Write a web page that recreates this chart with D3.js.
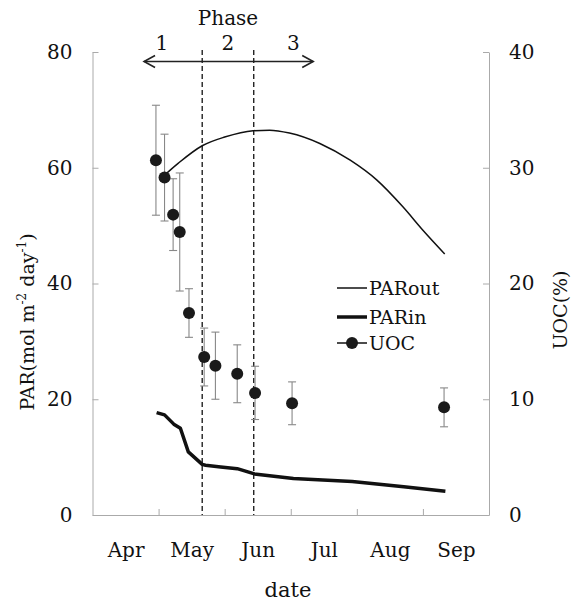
<!DOCTYPE html>
<html>
<head>
<meta charset="utf-8">
<script src="https://cdn.jsdelivr.net/npm/d3@7"></script>
<style>
  body { margin: 0; background: #fff; }
  svg text { font-family: "DejaVu Serif", serif; fill: #111; }
</style>
</head>
<body>
<div id="chart"></div>
<script>
// month bands on the x axis (0 = start of Apr band)
const months = ["Apr", "May", "Jun", "Jul", "Aug", "Sep"]
const leftTicks = [0, 20, 40, 60, 80]
const rightTicks = [0, 10, 20, 30, 40]

// PAR outside (mol m-2 day-1)
const parOutX = [1.02, 1.30, 1.66, 2.00, 2.43, 2.68, 2.98, 3.44, 3.90, 4.30, 4.70, 5.00, 5.33]
const parOutY = [58.0, 60.8, 63.8, 65.3, 66.4, 66.5, 66.0, 64.2, 61.3, 57.9, 53.2, 49.2, 45.1]

// PAR inside
const parInX = [0.97, 1.09, 1.23, 1.33, 1.45, 1.66, 1.71, 1.94, 2.19, 2.45, 3.04, 3.93, 4.71, 5.34]
const parInY = [17.7, 17.3, 15.7, 15.0, 10.9, 8.75, 8.6, 8.3, 8.0, 7.1, 6.3, 5.8, 4.9, 4.1]

// UOC (%) with error
const uocX = [0.96, 1.09, 1.22, 1.32, 1.46, 1.69, 1.86, 2.19, 2.46, 3.02, 5.32]
const uocY = [30.65, 29.15, 25.95, 24.45, 17.45, 13.65, 12.9, 12.2, 10.55, 9.65, 9.3]
const uocErr = [4.75, 3.75, 3.1, 5.1, 2.1, 2.5, 2.9, 2.5, 2.3, 1.85, 1.68]

// phases
const phaseBounds = [1.66, 2.44]
const phaseLabels = ["1", "2", "3"]
const phaseLabelX = [1.05, 2.05, 3.04]
const arrowExtent = [0.78, 3.34]

const W = 575, H = 602
const svg = d3.select("#chart").append("svg")
    .attr("width", W)
    .attr("height", H)

const x = d3.scaleLinear().domain([0, 6]).range([92.5, 489])
const y = d3.scaleLinear().domain([0, 80]).range([515, 52])
const y2 = d3.scaleLinear().domain([0, 40]).range([515, 52])

const axisColor = "#aaa"

// axes
const yAxis = d3.axisLeft(y).tickValues(leftTicks).tickSize(-6).tickSizeOuter(0).tickPadding(20)
const y2Axis = d3.axisRight(y2).tickValues(rightTicks).tickSize(-6).tickSizeOuter(0).tickPadding(20)
const xAxis = d3.axisBottom(x).tickValues([1, 2, 3, 4, 5]).tickSize(-6).tickSizeOuter(0).tickFormat("")
const xLabels = d3.axisBottom(x).tickValues(months.map((d, i) => i + 0.5))
    .tickSize(0).tickPadding(28).tickFormat((d, i) => months[i])

function styleAxis(g) {
    g.select(".domain").attr("stroke", axisColor)
    g.selectAll(".tick line").attr("stroke", axisColor)
    g.selectAll(".tick text").attr("font-size", 20).attr("fill", "#111")
        .style("font-family", "DejaVu Serif, serif")
}

svg.append("g").attr("class", "y-axis")
    .attr("transform", `translate(${x(0)},0)`)
    .call(yAxis).call(styleAxis)

svg.append("g").attr("class", "y2-axis")
    .attr("transform", `translate(${x(6)},0)`)
    .call(y2Axis).call(styleAxis)

svg.append("g").attr("class", "x-axis")
    .attr("transform", `translate(0,${y(0)})`)
    .call(xAxis).call(styleAxis)

svg.append("g").attr("class", "x-labels")
    .attr("transform", `translate(0,${y(0)})`)
    .call(xLabels).call(styleAxis)
    .call(g => g.select(".domain").remove())

// axis titles
const parLabel = svg.append("text")
    .attr("transform", `translate(34,${322}) rotate(-90)`)
    .attr("text-anchor", "middle")
    .attr("font-size", 19)
parLabel.append("tspan").text("PAR(mol m")
parLabel.append("tspan").attr("font-size", 12).attr("dy", -8).text("-2")
parLabel.append("tspan").attr("dy", 8).text(" day")
parLabel.append("tspan").attr("font-size", 12).attr("dy", -8).text("-1")
parLabel.append("tspan").attr("dy", 8).text(")")

svg.append("text")
    .attr("transform", `translate(567,${310}) rotate(-90)`)
    .attr("text-anchor", "middle")
    .attr("font-size", 19)
    .text("UOC(%)")

svg.append("text")
    .attr("x", 288).attr("y", 597)
    .attr("text-anchor", "middle")
    .attr("font-size", 21)
    .text("date")

// phase boundaries
svg.selectAll(".phase-line")
    .data(phaseBounds)
    .join("line")
    .attr("class", "phase-line")
    .attr("x1", d => x(d)).attr("x2", d => x(d))
    .attr("y1", 50).attr("y2", y(0))
    .attr("stroke", "#111")
    .attr("stroke-width", 1.3)
    .attr("stroke-dasharray", "5,3")

// phase arrow
const ay = 61.5
const a0 = x(arrowExtent[0]), a1 = x(arrowExtent[1])
svg.append("line")
    .attr("x1", a0).attr("x2", a1).attr("y1", ay).attr("y2", ay)
    .attr("stroke", "#222").attr("stroke-width", 1.6)
svg.append("path")
    .attr("d", `M${a0 + 11},${ay - 6}L${a0},${ay}L${a0 + 11},${ay + 6}`)
    .attr("fill", "none").attr("stroke", "#222").attr("stroke-width", 1.6)
svg.append("path")
    .attr("d", `M${a1 - 11},${ay - 6}L${a1},${ay}L${a1 - 11},${ay + 6}`)
    .attr("fill", "none").attr("stroke", "#222").attr("stroke-width", 1.6)

svg.append("text")
    .attr("x", 228).attr("y", 25)
    .attr("text-anchor", "middle")
    .attr("font-size", 20)
    .text("Phase")

svg.selectAll(".phase-num")
    .data(phaseLabels)
    .join("text")
    .attr("class", "phase-num")
    .attr("x", (d, i) => x(phaseLabelX[i]))
    .attr("y", 50)
    .attr("text-anchor", "middle")
    .attr("font-size", 20)
    .text(d => d)

// lines
const parOut = parOutX.map((d, i) => ({x: d, v: parOutY[i]}))
const parIn = parInX.map((d, i) => ({x: d, v: parInY[i]}))
const line = d3.line().x(d => x(d.x)).y(d => y(d.v)).curve(d3.curveMonotoneX)

svg.append("path")
    .datum(parOut)
    .attr("d", line)
    .attr("fill", "none")
    .attr("stroke", "#111")
    .attr("stroke-width", 1.5)

svg.append("path")
    .datum(parIn)
    .attr("d", d3.line().x(d => x(d.x)).y(d => y(d.v)))
    .attr("fill", "none")
    .attr("stroke", "#111")
    .attr("stroke-width", 3.5)
    .attr("stroke-linejoin", "round")

// UOC error bars + points
const uoc = uocX.map((d, i) => ({x: d, v: uocY[i], e: uocErr[i]}))
const eb = svg.append("g").attr("class", "errbars")
    .attr("stroke", "#888").attr("stroke-width", 1.1)
uoc.forEach(d => {
    const cx = x(d.x)
    eb.append("line").attr("x1", cx).attr("x2", cx)
        .attr("y1", y2(d.v + d.e)).attr("y2", y2(d.v - d.e))
    eb.append("line").attr("x1", cx - 4).attr("x2", cx + 4)
        .attr("y1", y2(d.v + d.e)).attr("y2", y2(d.v + d.e))
    eb.append("line").attr("x1", cx - 4).attr("x2", cx + 4)
        .attr("y1", y2(d.v - d.e)).attr("y2", y2(d.v - d.e))
})

svg.selectAll(".uoc")
    .data(uoc)
    .join("circle")
    .attr("class", "uoc")
    .attr("cx", d => x(d.x))
    .attr("cy", d => y2(d.v))
    .attr("r", 6)
    .attr("fill", "#1a1a1a")

// legend
const legend = svg.append("g").attr("class", "legend")
const items = [
    {name: "PARout", w: 1.5, dot: false, y: 288},
    {name: "PARin", w: 3.5, dot: false, y: 317},
    {name: "UOC", w: 1.5, dot: true, y: 343}
]
items.forEach(d => {
    legend.append("line")
        .attr("x1", 337).attr("x2", 367).attr("y1", d.y).attr("y2", d.y)
        .attr("stroke", "#111").attr("stroke-width", d.w)
    if (d.dot) legend.append("circle").attr("cx", 352).attr("cy", d.y).attr("r", 6).attr("fill", "#1a1a1a")
    legend.append("text")
        .attr("x", 369).attr("y", d.y).attr("dy", "0.36em")
        .attr("font-size", 19)
        .text(d.name)
})
</script>
</body>
</html>
